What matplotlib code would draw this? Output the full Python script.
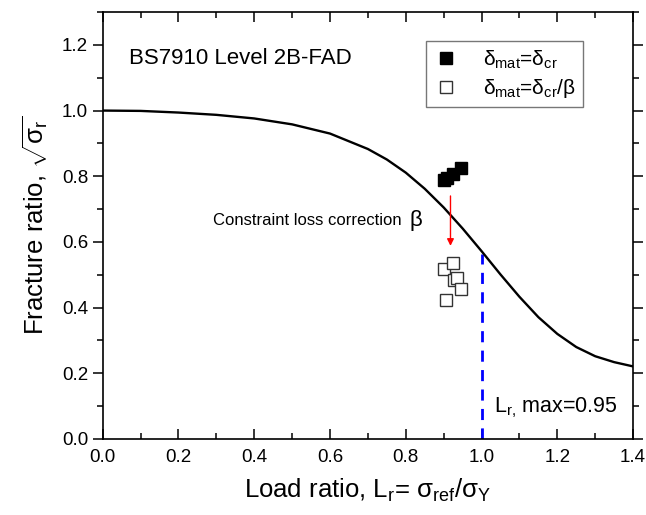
import matplotlib
matplotlib.use("Agg")
import matplotlib.pyplot as plt
from matplotlib.ticker import MultipleLocator

plt.rcParams['font.family'] = ['Liberation Sans', 'DejaVu Sans']
plt.rcParams['mathtext.fontset'] = 'custom'
plt.rcParams['mathtext.rm'] = 'Liberation Sans'
plt.rcParams['mathtext.it'] = 'Liberation Sans:italic'
plt.rcParams['mathtext.bf'] = 'Liberation Sans:bold'

# FAD curve
lr_curve = [0.0, 0.1, 0.2, 0.3, 0.4, 0.5, 0.6, 0.7, 0.75, 0.8, 0.85, 0.9, 0.95,
            1.0, 1.05, 1.1, 1.15, 1.2, 1.25, 1.3, 1.35, 1.4]
kr_curve = [1.000, 0.999, 0.994, 0.987, 0.976, 0.958, 0.930, 0.883, 0.851, 0.811,
            0.762, 0.705, 0.641, 0.572, 0.501, 0.433, 0.371, 0.320, 0.280, 0.252,
            0.234, 0.221]

# assessment points
lr_cr = [0.900, 0.910, 0.925, 0.945]
kr_cr = [0.790, 0.795, 0.808, 0.825]
lr_beta = [0.902, 0.925, 0.928, 0.935, 0.947, 0.905]
kr_beta = [0.519, 0.537, 0.484, 0.490, 0.456, 0.423]

lr_max = 1.0
kr_at_max = 0.562

fig = plt.figure(figsize=(6.46, 5.15), dpi=100)
ax = fig.add_axes([0.159, 0.1476, 0.821, 0.829])

ax.plot(lr_curve, kr_curve, color='black', lw=1.7, zorder=3)
ax.plot(lr_cr, kr_cr, 's', color='black', markersize=9, mec='black',
        label='δ$_\\mathrm{mat}$=δ$_\\mathrm{cr}$', zorder=4)
ax.plot(lr_beta, kr_beta, 's', mfc='white', mec='#333333', markersize=9, mew=1.0,
        label='δ$_\\mathrm{mat}$=δ$_\\mathrm{cr}$/β', zorder=4)

ax.plot([lr_max, lr_max], [0, kr_at_max], color='blue', lw=2, ls=(0, (4, 3)), zorder=2)

ax.annotate('', xy=(0.918, 0.588), xytext=(0.918, 0.740),
            arrowprops=dict(arrowstyle='-|>', color='red', lw=1.0,
                            mutation_scale=10, shrinkA=0, shrinkB=0))

ax.text(0.29, 0.664, 'Constraint loss correction ', fontsize=12, va='center', ha='left')
ax.text(0.81, 0.664, 'β', fontsize=16, va='center', ha='left')
ax.text(0.069, 1.158, 'BS7910 Level 2B-FAD', fontsize=16, va='center', ha='left')
ax.text(1.033, 0.094, 'L$_\\mathrm{r,}\\,$max=0.95', fontsize=15.5, va='center', ha='left')

ax.set_xlim(0, 1.4)
ax.set_ylim(0, 1.3)
ax.xaxis.set_major_locator(MultipleLocator(0.2))
ax.xaxis.set_minor_locator(MultipleLocator(0.1))
ax.yaxis.set_major_locator(MultipleLocator(0.2))
ax.yaxis.set_minor_locator(MultipleLocator(0.1))
ax.tick_params(axis='both', which='both', labelsize=13.5, width=1.1)
ax.tick_params(axis='x', which='both', direction='in', top=True, pad=7)
ax.tick_params(axis='y', which='both', direction='out', right=True)
ax.tick_params(which='major', length=7)
ax.tick_params(which='minor', length=4)
for s in ax.spines.values():
    s.set_linewidth(1.2)

ax.set_xlabel('Load ratio, L$_\\mathrm{r}$= σ$_\\mathrm{ref}$/σ$_\\mathrm{Y}$', fontsize=18.5, labelpad=8)
ax.set_ylabel('Fracture ratio, $\\sqrt{\\mathrm{σ}_\\mathrm{r}}$', fontsize=18.5, labelpad=8)

leg = ax.legend(loc='upper right', bbox_to_anchor=(0.906, 0.932), fontsize=15,
                frameon=True, fancybox=False, edgecolor='#555555',
                handlelength=1.2, handletextpad=1.2, borderpad=0.35,
                labelspacing=0.3, borderaxespad=0, markerscale=0.9)
leg.get_frame().set_linewidth(1.0)

fig.savefig('out.png', dpi=100)
